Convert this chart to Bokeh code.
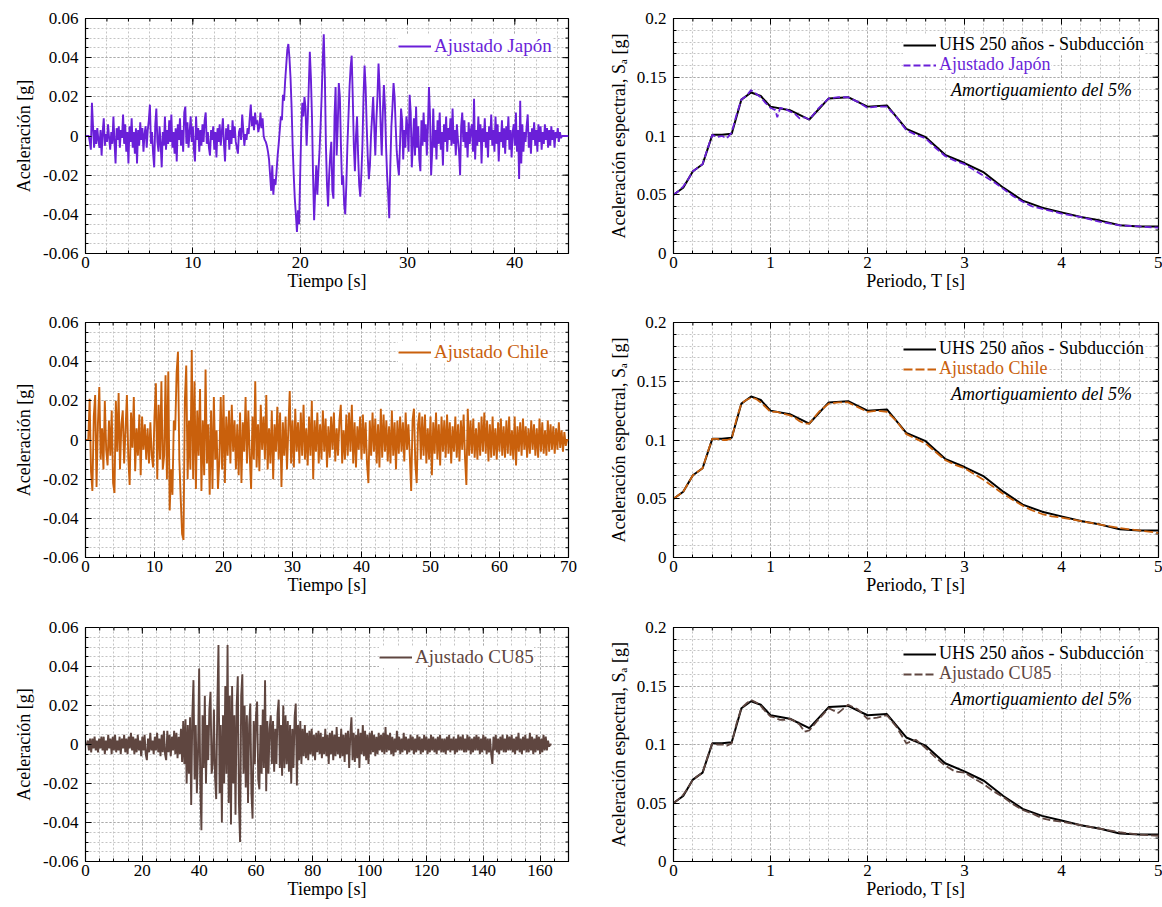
import numpy as np
from bokeh.plotting import figure
from bokeh.layouts import gridplot
from bokeh.models import Range1d, FixedTicker, Legend, LegendItem, Label
from bokeh.embed import file_html
from bokeh.resources import INLINE

FONT = "Liberation Serif"

# ---------------------------------------------------------------------------
# Acceleration time histories, in thousandths of g, sampled every *_dt seconds
# ---------------------------------------------------------------------------
jp_dt = 0.1
jp_acc_milli = [
    0, 0, 0, 0, -3, -7, 17, 5, -6, 3,
    -4, 4, -2, -6, 3, -10, 2, 9, -5, 1,
    -3, 6, -1, -7, 2, -4, 10, -3, -14, 4,
    -2, 5, -6, 3, -1, 11, -4, 6, -8, 2,
    -14, 5, -3, 9, -6, 2, -9, 4, -14, 3,
    -5, 7, -2, 4, -8, 1, 5, -6, 3, 8,
    16, -4, 2, -9, -16, 6, 14, -3, -8, 5,
    -4, -16, 2, -5, 10, -7, 3, -4, 8, -3,
    11, -6, 2, -9, 4, -13, 6, -2, 9, -5,
    3, -8, 12, 15, -4, 7, -6, 2, 10, -3,
    5, -7, -13, 10, -2, 4, -8, 3, -5, 6,
    -3, 8, 12, -4, 2, -6, -10, 3, -2, 5,
    -7, 2, -11, 4, -3, 6, -5, 2, 9, -4,
    -13, 4, -2, 6, -7, 3, -4, 8, -1, 5,
    -3, -6, -9, 2, 4, -2, 11, 3, -5, 1,
    -2, 4, 1, 9, 16, 5, 10, 3, 12, 6,
    8, 2, 5, 12, 4, 9, 0, -2, -3, -5,
    -8, -12, -20, -28, -15, -30, -22, -25, -18, -10,
    -4, 3, 10, 8, 21, 18, 28, 36, 44, 47,
    40, 30, 15, -5, -20, -32, -40, -49, -38, -45,
    -20, 2, 17, 10, 20, 14, -5, 8, 25, 43,
    30, 10, -20, -43, -28, -15, -30, -18, -8, 5,
    20, 38, 52, 30, -5, -25, -36, -20, -10, -3,
    -28, -32, 10, 25, -10, 5, 27, 20, -5, -25,
    -20, -35, -40, -25, -5, 10, 25, 35, 41, 20,
    -5, -18, 0, 10, -10, -25, -31, -20, -5, 20,
    36, 25, 5, -11, -22, -15, 0, 10, 20, 5,
    -10, 8, 20, 37, 25, 5, -10, 12, 26, 15,
    -5, -20, -30, -42, -15, 5, 15, 27, 20, 5,
    -8, -15, -20, -5, 14, 8, -12, 3, -6, 10,
    4, -8, 21, 12, -16, -4, 9, -10, 15, -6,
    5, -12, -18, 8, -5, 12, -3, 6, -10, 4,
    25, 10, -20, -8, 14, -6, 3, -12, 8, -4,
    12, -7, 2, -15, 6, -3, 10, -8, 4, -2,
    9, -5, 14, -4, 3, -10, 6, -2, -8, -20,
    5, 12, -3, 8, -6, 2, -11, 7, -4, 3,
    6, -8, 19, -12, 3, -5, 10, -3, 6, -14,
    4, -3, 9, -6, 2, -11, 5, -2, 11, -5,
    3, -8, 10, -4, 6, -13, 2, -3, 8, -6,
    4, -9, 5, -2, 10, -7, 3, -11, 2, 6,
    -5, 12, -8, 3, -22, 18, -14, 6, -8, 2,
    -3, 5, 11, -6, 2, -9, 4, -2, 7, -5,
    3, -8, 6, -3, 5, -7, 2, -4, 6, -2,
    4, -6, 3, -5, 5, -2, 3, -6, 2, -1,
    4, -3, 2, -1, 0, 0, 0, 0, 0, 0,
    0,
]

cl_dt = 0.2
cl_acc_milli = [
    0, 0, 0, 21, -16, -26, 12, 23, -24, 8,
    27, -10, 6, -15, 20, -5, -13, 10, -8, 15,
    -22, -27, 20, -6, 24, -15, 8, 15, -12, 5,
    23, -9, -23, 14, -4, 22, -16, 6, -8, 13,
    -18, 12, -5, 8, -10, 6, -12, 9, -8, -14,
    12, 29, -20, 18, -10, 30, -15, -8, 33, -20,
    35, -36, -15, -28, 10, 5, 34, 45, -10, -30,
    -48, -51, 20, 38, -20, 10, -15, 46, -20, 30,
    -25, 15, -8, 26, -26, 10, -18, 36, -12, 8,
    -28, 15, -25, 22, -10, 5, -25, -10, 22, -15,
    23, -22, 12, -8, 15, -12, 18, -6, 10, -15,
    8, -18, 14, -22, 9, -6, 22, -12, 15, -8,
    -25, 12, -10, 30, -14, 8, -16, 18, -5, 12,
    -10, 23, -15, 6, -12, 15, -20, 8, -6, 17,
    -10, 14, -24, 9, -8, 12, -15, 6, 25, -12,
    10, -14, 16, -6, 9, -12, 14, -8, 18, -10,
    6, -13, 12, -8, 20, -20, 10, -6, 14, -12,
    8, -10, 15, -6, 11, -14, 7, -9, 12, -5,
    14, -11, 6, -8, 10, 18, -12, 5, -10, 13,
    -8, 14, -6, 18, -12, 9, -14, 7, -5, 12,
    -10, 13, -7, 9, -12, -22, 10, -8, 14, -6,
    11, -12, 8, -14, 16, -9, 13, -6, 10, -11,
    7, -12, 15, -8, 9, -15, 10, -7, 12, -6,
    9, -11, 14, -5, 8, -8, -26, 10, 16, -12,
    -22, 8, 14, -10, 12, -8, 13, -12, 6, -10,
    12, -18, 9, -7, 14, -10, 8, -13, 12, -6,
    10, -9, 13, -7, 9, -12, 7, -6, 12, -9,
    8, -11, 10, -5, 13, -9, -23, 16, -8, 10,
    -7, 11, -9, 6, -10, 9, -8, 12, -6, 14,
    -7, 10, -11, 8, -9, 12, -8, 6, -10, 9,
    -6, 11, -8, 7, -9, 10, -7, 12, -8, 5,
    -10, 12, -13, 7, -6, 9, -8, 11, -5, 7,
    -9, 6, -7, 10, -5, 8, -8, 6, -9, 11,
    -6, 9, -7, 5, -8, 10, -6, 8, -5, 7,
    -7, 6, -5, 9, -4, 5, -6, 4, -3, 0,
    0,
]

cu_dt = 0.4
cu_acc_milli = [
    0, 0, 2, -3, 3, -4, 3, -2, 4, -3,
    2, -4, 3, -2, 4, -3, 4, -5, 2, -3,
    5, -2, 3, -5, 4, -3, 5, -4, 2, -3,
    4, -5, 3, -2, 5, -4, 3, -5, 4, -2,
    6, -3, 4, -5, 3, -4, 5, -3, 2, -6,
    4, -3, 5, -5, -8, 3, -4, 6, -3, 2,
    -5, 4, -3, 6, -4, 3, -6, 5, -4, 7,
    -5, -8, 7, -4, 5, -6, 4, -3, 7, -5,
    6, -7, 4, -5, 8, -9, 12, -10, 13, -20,
    10, -15, 14, -31, 15, 33, -18, 10, -25, -5,
    39, -20, -44, 15, -12, 25, -20, 10, -8, 18,
    27, -15, -10, 18, -17, -28, 20, 51, -25, 10,
    -40, 15, -20, 30, -15, 51, -30, 25, -41, 30,
    -20, 15, -36, 20, 35, -30, -50, 25, 36, -15,
    20, -22, 15, -30, 10, 21, -25, -38, 12, -10,
    15, 22, -18, -23, 10, -15, 18, -12, 33, -24,
    12, -15, 8, 15, -10, 12, -14, 8, -10, 16,
    23, -12, 10, -16, 20, -12, 15, -10, 12, -14,
    10, -20, 8, -12, 14, 21, -21, 10, -8, 12,
    -10, 8, -6, 10, -7, 6, -8, 7, -5, 8,
    -6, 5, -8, 6, -4, 7, -5, 6, -7, 4,
    -5, 8, -6, 5, -10, 6, -5, 7, -8, 5,
    -6, 9, -5, 4, -7, 8, -6, 5, -9, 6,
    -5, 7, -12, 5, 14, -8, 6, -9, 5, -7,
    8, -12, 6, -5, 10, -6, 7, -8, 5, -10,
    6, -5, 7, -4, 5, -6, 4, -5, 6, -3,
    5, -4, 6, -5, 9, -4, 5, -3, 6, -5,
    4, -6, 3, -4, 7, -3, 4, -5, 3, -4,
    6, -3, 4, -5, 3, -4, 5, -3, 4, -5,
    3, -4, 5, -3, 4, -5, 3, -4, 5, -3,
    4, -5, 3, -4, 5, -3, 4, -4, 3, -5,
    4, -3, 5, -4, 3, -4, 3, -5, 4, -3,
    5, -4, 3, -3, 4, -5, 3, -4, 5, -3,
    4, -3, 5, -4, 3, -4, 5, -3, 4, -5,
    3, -4, 4, -3, 5, -3, 4, -5, 3, -4,
    5, -3, 4, -5, 3, -4, 3, -5, -10, 4,
    -3, 5, -4, 3, -5, 4, -3, 5, -4, 3,
    -4, 5, -3, 4, -3, 5, -4, 3, -5, 4,
    -3, 6, -4, 3, -5, 4, -3, 5, -4, 3,
    -4, 6, -3, 4, -5, 3, -4, 5, -3, 4,
    -5, 3, -4, 5, -3, 4, -3, 2, -1, 0,
    0,
]

# ---------------------------------------------------------------------------
# 5 %-damped response spectra: target UHS and the three matched records
# ---------------------------------------------------------------------------
uhs_T = [0, 0.05, 0.1, 0.2, 0.3, 0.4, 0.5, 0.6, 0.7, 0.8, 0.9, 1.0, 1.2, 1.4,
         1.6, 1.8, 2.0, 2.2, 2.4, 2.6, 2.8, 3.0, 3.2, 3.4, 3.6, 3.8, 4.0, 4.2,
         4.4, 4.6, 4.8, 5.0]
uhs_Sa = [0.050, 0.053, 0.056, 0.070, 0.076, 0.101, 0.101, 0.102, 0.131, 0.137,
          0.134, 0.125, 0.122, 0.114, 0.132, 0.133, 0.125, 0.126, 0.106, 0.099,
          0.084, 0.077, 0.069, 0.056, 0.045, 0.039, 0.035, 0.031, 0.028, 0.024,
          0.023, 0.023]

fit_T = [0, 0.05, 0.1, 0.15, 0.2, 0.25, 0.3, 0.35, 0.4, 0.45,
         0.5, 0.55, 0.6, 0.65, 0.7, 0.75, 0.8, 0.85, 0.9, 0.95,
         1.0, 1.05, 1.07, 1.1, 1.15, 1.2, 1.25, 1.3, 1.35, 1.4,
         1.5, 1.6, 1.7, 1.8, 1.9, 2.0, 2.1, 2.2, 2.3, 2.4,
         2.5, 2.6, 2.7, 2.8, 2.9, 3.0, 3.1, 3.2, 3.3, 3.4,
         3.5, 3.6, 3.7, 3.8, 3.9, 4.0, 4.2, 4.4, 4.6, 4.8, 5.0]
jp_Sa = [0.050, 0.053, 0.057, 0.063, 0.070, 0.073, 0.076, 0.089, 0.101, 0.099,
         0.100, 0.098, 0.103, 0.118, 0.131, 0.134, 0.139, 0.136, 0.133, 0.128,
         0.124, 0.122, 0.116, 0.124, 0.123, 0.121, 0.119, 0.115, 0.116, 0.114,
         0.124, 0.132, 0.133, 0.133, 0.129, 0.124, 0.125, 0.125, 0.116, 0.105,
         0.101, 0.098, 0.090, 0.083, 0.079, 0.076, 0.071, 0.066, 0.061, 0.055,
         0.049, 0.044, 0.040, 0.038, 0.036, 0.034, 0.031, 0.027, 0.024, 0.023, 0.022]
cl_Sa = [0.050, 0.053, 0.056, 0.063, 0.070, 0.073, 0.076, 0.089, 0.101, 0.101,
         0.100, 0.100, 0.101, 0.118, 0.131, 0.134, 0.136, 0.135, 0.132, 0.128,
         0.124, 0.124, 0.124, 0.123, 0.122, 0.121, 0.119, 0.116, 0.114, 0.114,
         0.124, 0.131, 0.132, 0.132, 0.128, 0.124, 0.125, 0.124, 0.116, 0.105,
         0.101, 0.097, 0.090, 0.083, 0.079, 0.076, 0.071, 0.066, 0.060, 0.054,
         0.049, 0.044, 0.040, 0.037, 0.035, 0.034, 0.031, 0.028, 0.025, 0.023, 0.021]
cu_Sa = [0.050, 0.053, 0.057, 0.063, 0.070, 0.073, 0.076, 0.089, 0.101, 0.100,
         0.100, 0.099, 0.101, 0.118, 0.131, 0.135, 0.138, 0.136, 0.133, 0.128,
         0.124, 0.123, 0.122, 0.121, 0.121, 0.122, 0.120, 0.117, 0.111, 0.112,
         0.122, 0.131, 0.127, 0.134, 0.130, 0.122, 0.123, 0.125, 0.115, 0.101,
         0.104, 0.097, 0.089, 0.082, 0.077, 0.076, 0.071, 0.066, 0.060, 0.055,
         0.049, 0.044, 0.041, 0.037, 0.035, 0.034, 0.031, 0.028, 0.025, 0.023, 0.022]

# tick labels
acc_ticks = [-0.06, -0.04, -0.02, 0, 0.02, 0.04, 0.06]
acc_tick_labels = ["-0.06", "-0.04", "-0.02", "0", "0.02", "0.04", "0.06"]
sa_ticks = [0, 0.05, 0.1, 0.15, 0.2]
sa_tick_labels = ["0", "0.05", "0.1", "0.15", "0.2"]
period_ticks = [0, 1, 2, 3, 4, 5]
period_tick_labels = ["0", "1", "2", "3", "4", "5"]

records = [
    dict(name="Ajustado Japón", color="#6a1fd8", dt=jp_dt, acc=jp_acc_milli,
         tmax=45, tstep=10, tminor=2, sa=jp_Sa, dash="7 3"),
    dict(name="Ajustado Chile", color="#c9600c", dt=cl_dt, acc=cl_acc_milli,
         tmax=70, tstep=10, tminor=2, sa=cl_Sa, dash="9 3"),
    dict(name="Ajustado CU85", color="#5f4640", dt=cu_dt, acc=cu_acc_milli,
         tmax=170, tstep=20, tminor=5, sa=cu_Sa, dash="8 3"),
]

TICK_FS = "17px"
LABEL_FS = "18px"
LEG_FS = "18px"
ACC_LEG_FS = "19px"

# canvas geometry of the 3 x 2 panel grid
ROW_H = [303, 303, 301]
LEFT_W, RIGHT_W = 581, 581
LEFT_BORDERS = [(81, 11, 17, 45), (81, 13, 19, 45), (85, 12, 20, 43)]
RIGHT_BORDERS = [(92, 4, 18, 50), (92, 4, 19, 49), (92, 4, 21, 46)]


def fmt_axis(ax, ticker, ticks, labels, label_text, standoff, label_standoff):
    ax.ticker = ticker
    ax.major_label_overrides = {float(k): v for k, v in zip(ticks, labels)}
    ax.axis_label = label_text
    ax.axis_label_text_font = FONT
    ax.axis_label_text_font_size = LABEL_FS
    ax.axis_label_text_font_style = "normal"
    ax.axis_label_text_color = "black"
    ax.axis_label_standoff = label_standoff
    ax.major_label_text_font = FONT
    ax.major_label_text_font_size = TICK_FS
    ax.major_label_text_color = "black"
    ax.major_label_standoff = standoff
    ax.axis_line_color = "black"
    ax.major_tick_line_color = "black"
    ax.minor_tick_line_color = "black"
    ax.major_tick_in = 6
    ax.major_tick_out = 0
    ax.minor_tick_in = 3
    ax.minor_tick_out = 0


def edge_ticks(p, xr, yr, xticks, xminor, yticks, yminor):
    """Inward tick marks along the top and right edges of the frame."""
    for ticks, ln in ((xticks, 6), (xminor, 3)):
        p.ray(x=list(ticks), y=[yr[1]] * len(ticks), length=ln,
              length_units="screen", angle=-np.pi / 2, line_color="black",
              line_width=1)
    for ticks, ln in ((yticks, 6), (yminor, 3)):
        p.ray(x=[xr[1]] * len(ticks), y=list(ticks), length=ln,
              length_units="screen", angle=np.pi, line_color="black",
              line_width=1)


def make_panel(width, height, borders, xr, yr, xticks, xminor, xlabels, yticks,
               yminor, ylabels, xtitle, ytitle, ylab_standoff):
    l, r, t, b = borders
    p = figure(width=width, height=height, x_range=Range1d(*xr), y_range=Range1d(*yr),
               output_backend="svg", toolbar_location=None,
               min_border_left=l, min_border_right=r, min_border_top=t,
               min_border_bottom=b, background_fill_color="white",
               border_fill_color="white")
    p.outline_line_color = "black"
    p.outline_line_width = 1.2
    xt = FixedTicker(ticks=xticks, minor_ticks=xminor)
    yt = FixedTicker(ticks=yticks, minor_ticks=yminor)
    fmt_axis(p.xaxis[0], xt, xticks, xlabels, xtitle, 3, 0)
    fmt_axis(p.yaxis[0], yt, yticks, ylabels, ytitle, 7, ylab_standoff)
    for g, tk in ((p.xgrid[0], xt), (p.ygrid[0], yt)):
        g.ticker = tk
        g.grid_line_color = "#a9a9a9"
        g.grid_line_dash = "2 2"
        g.grid_line_width = 1
        g.minor_grid_line_color = "#c4c4c4"
        g.minor_grid_line_dash = "2 2"
        g.minor_grid_line_width = 1
    edge_ticks(p, xr, yr, xticks, xminor, yticks, yminor)
    return p


def legend_box(items, color, loc, size):
    return Legend(items=items, location=loc, orientation="vertical",
                  label_text_font=FONT, label_text_font_size=size,
                  label_text_color=color, glyph_width=33, glyph_height=18,
                  label_height=18, label_standoff=3, padding=0, margin=0,
                  spacing=0, border_line_color=None,
                  background_fill_color="white", background_fill_alpha=1.0)


rows = []
for i, rec in enumerate(records):
    # --- acceleration time history -------------------------------------
    acc = np.array(rec["acc"], dtype=float) / 1000.0
    t = np.arange(len(acc)) * rec["dt"]
    xt_major = list(range(0, rec["tmax"] + 1, rec["tstep"]))
    xt_minor = [float(v) for v in np.arange(0, rec["tmax"] + 1e-9, rec["tminor"])]
    yt_minor = [float(v) for v in np.round(np.arange(-0.06, 0.0601, 0.005), 4)]
    lb = LEFT_BORDERS[i]
    p_acc = make_panel(LEFT_W, ROW_H[i], lb, (0, rec["tmax"]), (-0.06, 0.06),
                       xt_major, xt_minor, [str(v) for v in xt_major],
                       acc_ticks, yt_minor, acc_tick_labels,
                       "Tiempo [s]", "Aceleración [g]", 6)
    r_acc = p_acc.line(t, acc, line_color=rec["color"], line_width=1.9)
    frame_h = ROW_H[i] - lb[2] - lb[3]
    leg = legend_box([LegendItem(label=rec["name"], renderers=[r_acc])],
                     rec["color"], (313 if i < 2 else 294, frame_h - 45), ACC_LEG_FS)
    p_acc.add_layout(leg)

    # --- response spectrum ----------------------------------------------
    rb = RIGHT_BORDERS[i]
    sa_xminor = [float(v) for v in np.round(np.arange(0, 5.001, 0.2), 2)]
    sa_yminor = [float(v) for v in np.round(np.arange(0, 0.2001, 0.01), 3)]
    p_sa = make_panel(RIGHT_W, ROW_H[i], rb, (0, 5), (0, 0.2),
                      period_ticks, sa_xminor, period_tick_labels, sa_ticks,
                      sa_yminor, sa_tick_labels,
                      "Periodo, T [s]", "Aceleración espectral, Sₐ [g]", 5)
    r_uhs = p_sa.line(uhs_T, uhs_Sa, line_color="black", line_width=2)
    r_fit = p_sa.line(fit_T, rec["sa"], line_color=rec["color"], line_width=1.8,
                      line_dash=rec["dash"])
    frame_h = ROW_H[i] - rb[2] - rb[3]
    p_sa.add_layout(legend_box([LegendItem(label="UHS 250 años - Subducción",
                                           renderers=[r_uhs])], "black",
                               (230, frame_h - 37), LEG_FS))
    p_sa.add_layout(legend_box([LegendItem(label=rec["name"], renderers=[r_fit])],
                               rec["color"], (230, frame_h - 57), LEG_FS))
    p_sa.add_layout(Label(x=2.86, y=0.2 - 71 * 0.2 / frame_h,
                          text="Amortiguamiento del 5%", text_font=FONT,
                          text_font_size=LEG_FS, text_font_style="italic",
                          text_color="black", text_baseline="middle",
                          background_fill_color="white"))
    rows.append([p_acc, p_sa])

grid = gridplot(rows, toolbar_location=None)

with open("out.html", "w") as f:
    f.write(file_html(grid, INLINE, title="Acelerogramas ajustados"))
